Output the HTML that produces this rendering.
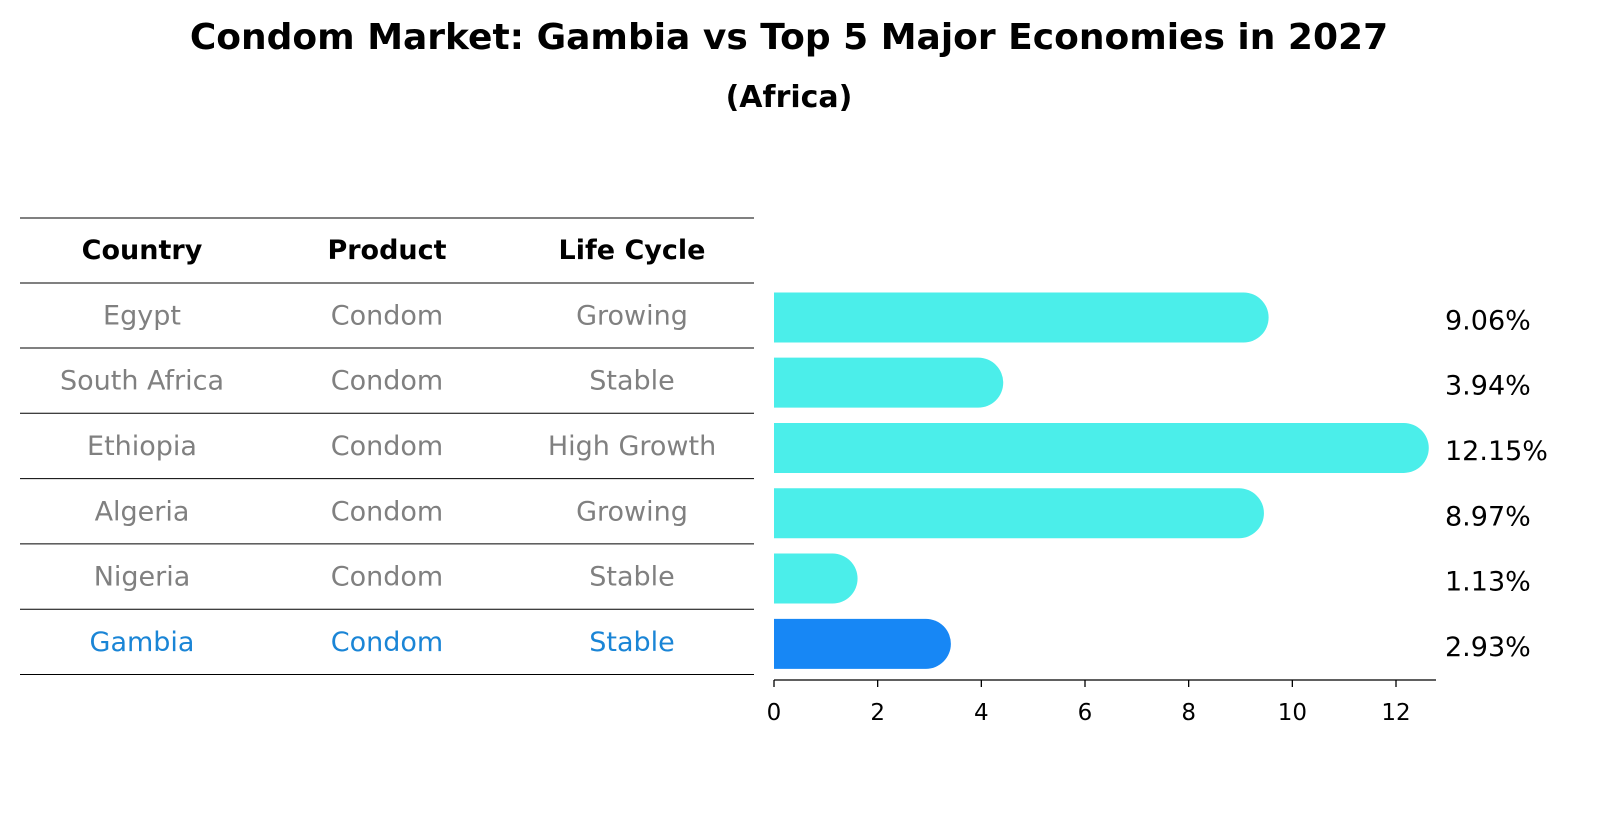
<!DOCTYPE html>
<html><head><meta charset="utf-8"><style>
body{margin:0;background:#fff;font-family:"Liberation Sans","DejaVu Sans",sans-serif;}
</style></head><body>
<svg width="1604" height="823" xmlns="http://www.w3.org/2000/svg" font-family="DejaVu Sans, Liberation Sans, sans-serif">
<text x="789" y="49" text-anchor="middle" font-size="36" font-weight="bold">Condom Market: Gambia vs Top 5 Major Economies in 2027</text>
<text x="789" y="107" text-anchor="middle" font-size="30" font-weight="bold">(Africa)</text>
<g id="table"></g>
<g id="bars"></g>
<g id="axis"></g>
</svg>
<script>
const countries=["Egypt","South Africa","Ethiopia","Algeria","Nigeria","Gambia"];
const products=["Condom","Condom","Condom","Condom","Condom","Condom"];
const cycles=["Growing","Stable","High Growth","Growing","Stable","Stable"];
const values=[9.06,3.94,12.15,8.97,1.13,2.93];
const ticks=[0,2,4,6,8,10,12];
const NS="http://www.w3.org/2000/svg";
function mk(t,a,p){const e=document.createElementNS(NS,t);for(const k in a)e.setAttribute(k,a[k]);p.appendChild(e);return e;}
const x0=774,scale=(1396-774)/12;
const xs=v=>x0+v*scale;
const tbl=document.getElementById('table');
const lineYs=[218,283];
for(let i=0;i<countries.length;i++)lineYs.push(348+i*65.3);
lineYs.forEach((y,i)=>{const l=mk('line',{x1:20,x2:754,y1:y,y2:y,stroke:'#000','stroke-width':1},tbl);
});
const colX=[142,387,632];
["Country","Product","Life Cycle"].forEach((h,j)=>{const t=mk('text',{x:colX[j],y:259,'text-anchor':'middle','font-size':27,'font-weight':'bold'},tbl);t.textContent=h;
});
countries.forEach((c,i)=>{const y=(lineYs[i+1]+lineYs[i+2])/2+9;const col=c==="Gambia"?"#1a85d6":"#808080";
[c,products[i],cycles[i]].forEach((s,j)=>{const t=mk('text',{x:colX[j],y:y,'text-anchor':'middle','font-size':27,fill:col},tbl);t.textContent=s;
});});
const bars=document.getElementById('bars');
const h=50,r=25;
values.forEach((v,i)=>{const cy=(lineYs[i+1]+lineYs[i+2])/2+2;const col=countries[i]==="Gambia"?"#1787f5":"#4beeea";
const xe=xs(v);
const p=mk('path',{d:`M${x0},${cy-h/2} L${xe},${cy-h/2} A${r},${r} 0 0 1 ${xe},${cy+h/2} L${x0},${cy+h/2} Z`,fill:col},bars);

const t=mk('text',{x:1445,y:cy+12,'font-size':27},bars);t.textContent=v.toFixed(2)+'%';
});
const ax=document.getElementById('axis');
const al=mk('line',{x1:x0,x2:1436,y1:680,y2:680,stroke:'#000','stroke-width':1.3},ax);

ticks.forEach(v=>{const tl=mk('line',{x1:xs(v),x2:xs(v),y1:680,y2:687,stroke:'#000','stroke-width':1.3},ax);

const t=mk('text',{x:xs(v),y:720,'text-anchor':'middle','font-size':23},ax);t.textContent=v;
});
</script>
</body></html>
